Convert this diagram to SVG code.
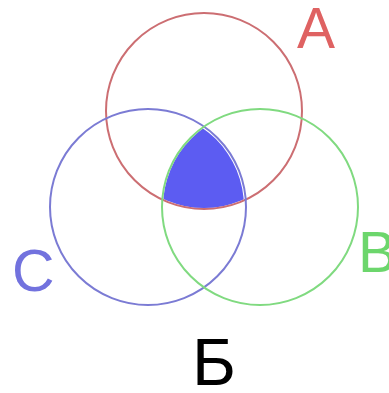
<svg xmlns="http://www.w3.org/2000/svg" width="389" height="393" viewBox="0 0 389 393">
<style>
.c{fill:none;stroke-width:2}
.lbl{font-family:"Liberation Sans",Arial,sans-serif}
.s57{font-size:57px}
.s59{font-size:59px}
.s58{font-size:58px}
.s67{font-size:67px}
</style>
<defs>
<clipPath id="clipA"><circle cx="204" cy="111" r="97"/></clipPath>
<clipPath id="clipB"><circle cx="260" cy="207" r="97"/></clipPath>
</defs>
<rect width="389" height="393" fill="#ffffff"/>
<g id="intersection" clip-path="url(#clipA)">
<g clip-path="url(#clipB)">
<circle cx="148" cy="207" r="96" fill="#5c5cf2"/>
</g>
</g>
<g id="A">
<circle class="c" cx="204" cy="111" r="98" stroke="#cc6e72"/>
<text class="lbl s57" x="316" y="48" fill="#df6262" text-anchor="middle">A</text>
</g>
<g id="C">
<circle class="c" cx="148" cy="207" r="98" stroke="#7b7bd4"/>
<text class="lbl s59" x="12" y="291" fill="#7272de">C</text>
</g>
<g id="B">
<circle class="c" cx="260" cy="207" r="98" stroke="#80da80"/>
<text class="lbl s58" x="358" y="272" fill="#6cd66c">B</text>
</g>
<g id="label-b">
<text class="lbl s67" x="192" y="385" fill="#000000">Б</text>
</g>
</svg>
